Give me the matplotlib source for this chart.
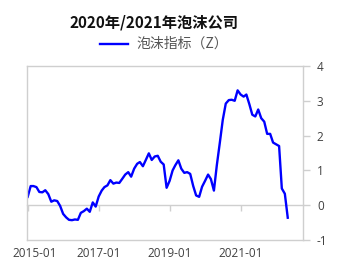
import matplotlib
matplotlib.use("Agg")
import matplotlib.pyplot as plt
import matplotlib.dates as mdates
import pandas as pd
import numpy as np

plt.rcParams['font.family'] = ['Noto Sans CJK SC', 'DejaVu Sans']

title = "2020年/2021年泡沫公司"
series_name = "泡沫指标（Z）"
start_month = "2015-01-01"
values = [
    0.24, 0.55, 0.55, 0.52, 0.38, 0.37, 0.43, 0.32, 0.10, 0.14,
    0.12, -0.02, -0.25, -0.35, -0.42, -0.43, -0.41, -0.42, -0.22, -0.17,
    -0.10, -0.19, 0.08, -0.04, 0.25, 0.42, 0.52, 0.57, 0.72, 0.62,
    0.65, 0.64, 0.76, 0.88, 0.95, 0.82, 1.05, 1.19, 1.24, 1.12,
    1.30, 1.49, 1.30, 1.40, 1.42, 1.25, 1.17, 0.50, 0.70, 1.00,
    1.15, 1.29, 1.05, 0.93, 0.95, 0.90, 0.55, 0.28, 0.24, 0.53,
    0.70, 0.88, 0.75, 0.42, 1.15, 1.80, 2.45, 2.92, 3.02, 3.03,
    3.00, 3.30, 3.18, 3.12, 3.18, 2.90, 2.60, 2.55, 2.75, 2.50,
    2.40, 2.05, 2.05, 1.80, 1.75, 1.70, 0.48, 0.33, -0.36,
]
x_ticks = ["2015-01", "2017-01", "2019-01", "2021-01"]
y_ticks = [-1, 0, 1, 2, 3, 4]

dates = pd.date_range(start_month, periods=len(values), freq="MS")
tick_dates = pd.to_datetime([t + "-01" for t in x_ticks])

fig = plt.figure(figsize=(3.38, 2.77), dpi=100)
ax = fig.add_axes([27/338, 37/277, 276/338, 174/277])

ax.plot(dates, values, color="#0000FF", lw=1.7, solid_joinstyle="round")

ax.set_ylim(-1, 4)
ax.set_xlim(pd.Timestamp("2014-12-25"), pd.Timestamp("2022-10-05"))

grey = "#cfcfcf"
for s in ax.spines.values():
    s.set_color(grey)
    s.set_linewidth(1.0)

ax.yaxis.tick_right()
ax.set_yticks(y_ticks)
ax.set_yticklabels([str(v) for v in y_ticks], family=["Open Sans", "DejaVu Sans"])
ax.tick_params(axis="y", direction="out", length=5, color=grey, width=1,
               labelsize=8.5, labelcolor="#404040", pad=5)

label_pad = 5
ax.set_xticks(tick_dates)
ax.set_xticklabels([""] + x_ticks[1:], family=["Open Sans", "DejaVu Sans"])
ax.tick_params(axis="x", length=0, labelsize=8.5, labelcolor="#404040", pad=label_pad)
# first label is nudged right so it stays inside the figure, as in the reference
ax.annotate(x_ticks[0], xy=(mdates.date2num(tick_dates[0]), 0),
            xycoords=ax.get_xaxis_transform(),
            xytext=(4.8, -label_pad), textcoords="offset points",
            ha="center", va="top",
            fontsize=8.5, color="#404040", family=["Open Sans", "DejaVu Sans"],
            annotation_clip=False)

sec = ax.secondary_xaxis(0.2)
sec.set_xticks(tick_dates)
sec.tick_params(axis="x", direction="out", length=4, color=grey, width=1,
                labelbottom=False, labeltop=False)
for s in sec.spines.values():
    s.set_color(grey)
    s.set_linewidth(1.0)

fig.text(154/338, 1 - 22/277, title, ha="center", va="center",
         fontsize=11, fontweight="bold", color="#111111")

fig.lines.append(plt.Line2D([100/338, 128/338], [1 - 44/277, 1 - 44/277],
                            transform=fig.transFigure, color="#0000FF", lw=1.7))
fig.text(136/338, 1 - 44/277, series_name, ha="left", va="center",
         fontsize=10, color="#555555")

fig.savefig("out.png", dpi=100)
